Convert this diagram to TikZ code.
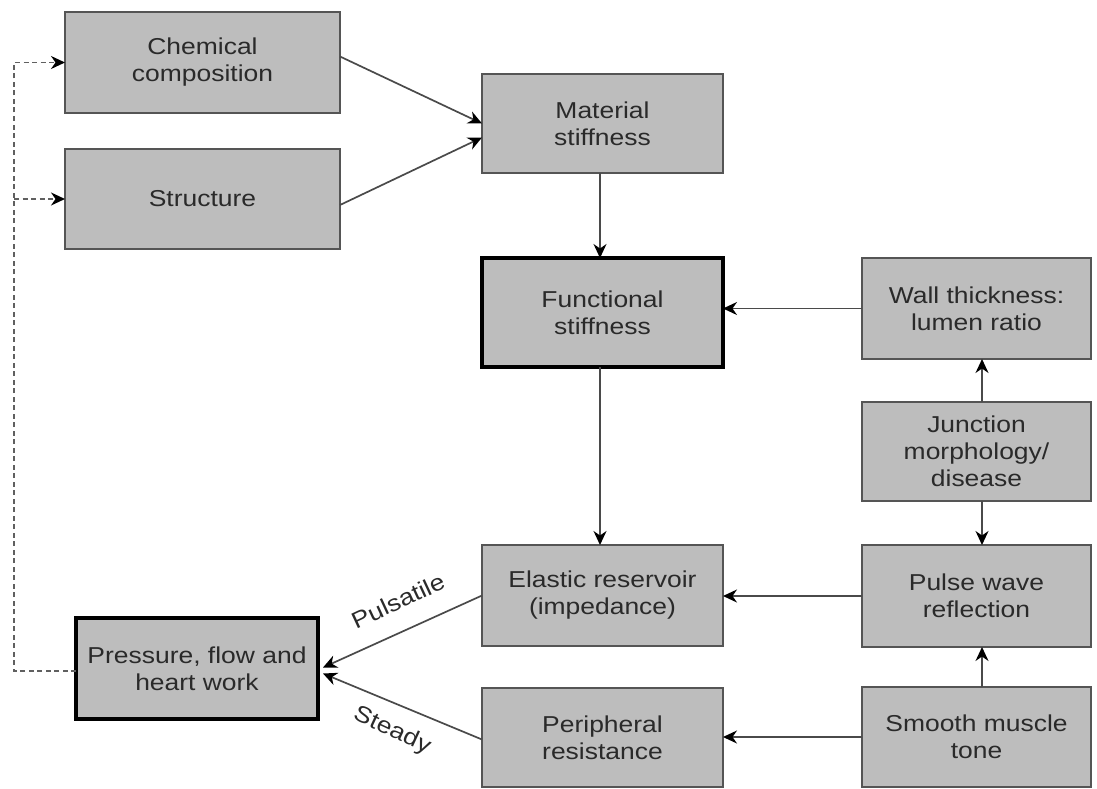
\documentclass[tikz,border=0pt]{standalone}
\usepackage{fontspec}
\setmainfont{Liberation Sans}[FakeStretch=1.15]
\usetikzlibrary{arrows.meta,calc}
\definecolor{boxfill}{HTML}{BDBDBD}
\definecolor{boxline}{HTML}{555555}
\definecolor{txt}{HTML}{2A2A2A}
\definecolor{conn}{HTML}{4A4A4A}
\definecolor{dashc}{HTML}{606060}
\begin{document}
\begin{tikzpicture}[x=1pt,y=-1pt,
  font=\fontsize{23}{27}\selectfont,
  boxnode/.style={draw=boxline,line width=1.8pt,fill=boxfill,text=txt,
    rectangle,inner sep=0pt,outer sep=0pt,align=center},
  keynode/.style={boxnode,draw=black,line width=4pt},
  arr/.style={draw=conn,line width=1.7pt,-{Stealth[length=14pt,width=13pt,inset=4.5pt,color=black]}},
  dasharr/.style={draw=dashc,line width=1.6pt,dash pattern=on 5pt off 3.5pt,
    -{Stealth[length=14pt,width=13pt,inset=4.5pt,color=black]}},
  lbl/.style={text=txt,inner sep=0pt}]
\useasboundingbox (0,0) rectangle (1097,789);
\node[boxnode,minimum width=275pt,minimum height=101pt] (chem) at (202.5,62.5) {Chemical\\composition};
\node[boxnode,minimum width=275pt,minimum height=100pt] (struct) at (202.5,199) {Structure};
\node[boxnode,minimum width=241pt,minimum height=99pt] (mat) at (602.5,123.5) {Material\\stiffness};
\node[keynode,minimum width=241pt,minimum height=109pt] (func) at (602.5,312.5) {Functional\\stiffness};
\node[boxnode,minimum width=229pt,minimum height=101pt] (wall) at (976.5,308.5) {Wall thickness:\\lumen ratio};
\node[boxnode,minimum width=229pt,minimum height=99pt] (junc) at (976.5,451.5) {Junction\\morphology/\\disease};
\node[boxnode,minimum width=229pt,minimum height=102pt] (pulse) at (976.5,596) {Pulse wave\\reflection};
\node[boxnode,minimum width=229pt,minimum height=100pt] (smooth) at (976.5,737) {Smooth muscle\\tone};
\node[boxnode,minimum width=241pt,minimum height=101pt] (elastic) at (602.5,595.5) {Elastic reservoir\\(impedance)};
\node[boxnode,minimum width=241pt,minimum height=99pt] (periph) at (602.5,737.5) {Peripheral\\resistance};
\node[keynode,minimum width=242pt,minimum height=101pt] (press) at (197,668.5) {Pressure, flow and\\heart work};

\coordinate (dtop) at (14,62.5);
\coordinate (dmid) at (14,199);
\coordinate (dbot) at (14,671);

\draw[arr] ([yshift=6pt]chem.east) -- ([yshift=0pt]mat.west);
\draw[arr] ([yshift=-6pt]struct.east) -- ([yshift=-14pt]mat.west);
\draw[arr] ([xshift=-2.5pt]mat.south) -- ([xshift=-2.5pt]func.north);
\draw[arr] (wall.west) -- (wall.west -| func.east);
\draw[arr] ([xshift=5.5pt]junc.north) -- ([xshift=5.5pt]wall.south);
\draw[arr] ([xshift=5.5pt]junc.south) -- ([xshift=5.5pt]pulse.north);
\draw[arr] ([xshift=5.5pt]smooth.north) -- ([xshift=5.5pt]pulse.south);
\draw[arr] ([xshift=-2.5pt]func.south) -- ([xshift=-2.5pt]elastic.north);
\draw[arr] (pulse.west) -- (pulse.west -| elastic.east);
\draw[arr] (smooth.west) -- (smooth.west -| periph.east);
\draw[arr] (elastic.west) -- ([xshift=5pt,yshift=1pt]press.east);
\draw[arr] ([yshift=-2pt]periph.west) -- ([xshift=5pt,yshift=-5pt]press.east);

\draw[dasharr] ([yshift=-2.5pt]press.west) -- (dbot) -- (dtop) -- (chem.west);
\draw[dasharr] (dmid) -- (struct.west);

\node[lbl,rotate=25] (puls) at (398,601) {Pulsatile};
\node[lbl,rotate=-25] (stdy) at (392,731) {Steady};
\end{tikzpicture}
\end{document}
